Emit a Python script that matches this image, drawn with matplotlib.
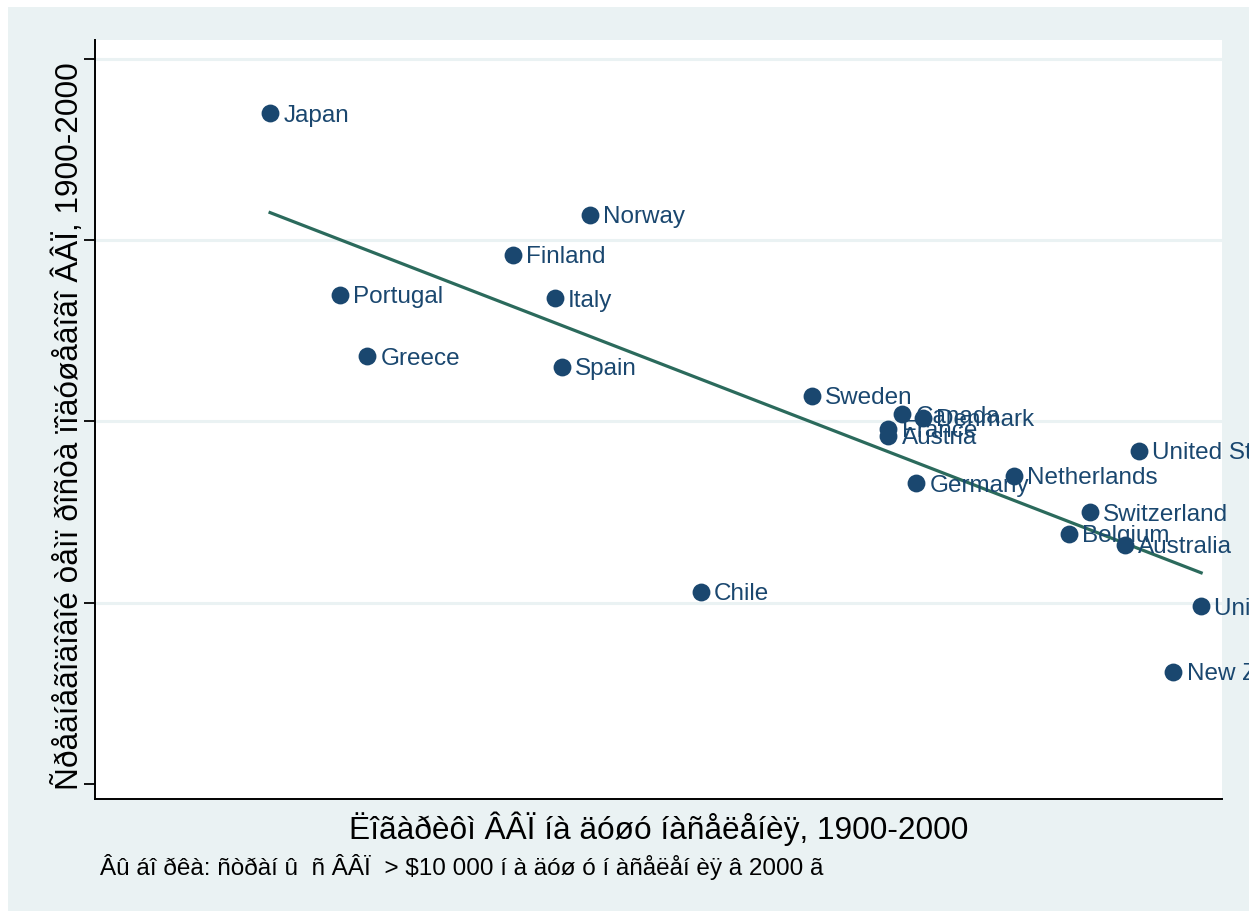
import matplotlib.pyplot as plt
from matplotlib.patches import Rectangle
import numpy as np

plt.rcParams["font.family"] = ["Liberation Sans", "DejaVu Sans"]

NAVY = "#1a476f"
FIT = "#2b6a5c"
BG = "#eaf2f3"

countries = [
    "Japan", "Norway", "Finland", "Portugal", "Italy", "Greece", "Spain",
    "Sweden", "Canada", "Denmark", "France", "Austria", "United States",
    "Netherlands", "Germany", "Switzerland", "Belgium", "Australia",
    "Chile", "United Kingdom", "New Zealand",
]
log_gdp = [
    7.07, 7.53, 7.42, 7.17, 7.48, 7.21, 7.49,
    7.85, 7.98, 8.01, 7.96, 7.96, 8.32,
    8.14, 8.00, 8.25, 8.22, 8.30,
    7.69, 8.41, 8.37,
]
growth = [
    2.85, 2.57, 2.46, 2.35, 2.34, 2.18, 2.15,
    2.07, 2.02, 2.01, 1.98, 1.96, 1.92,
    1.85, 1.83, 1.75, 1.69, 1.66,
    1.53, 1.49, 1.31,
]
y_ticks = [1.0, 1.5, 2.0, 2.5, 3.0]

xlabel = "Ëîãàðèôì ÂÂÏ íà äóøó íàñåëåíèÿ, 1900-2000"
ylabel = "Ñðåäíåãîäîâîé òåìï ðîñòà ïîäóøåâîãî ÂÂÏ, 1900-2000"
note = "Âû áî ðêà: ñòðàí û  ñ ÂÂÏ  > $10 000 í à äóø ó í àñåëåí èÿ â 2000 ã"

x = np.array(log_gdp)
y = np.array(growth)

fig = plt.figure(figsize=(12.49, 9.12), dpi=100, facecolor="white")
fig.patches.append(Rectangle((8 / 1249, 0), 1, 1 - 8 / 912, transform=fig.transFigure,
                             facecolor=BG, edgecolor="none", zorder=-10))
ax = fig.add_axes([95 / 1249, 1 - 800 / 912, (1222 - 95) / 1249, (800 - 41) / 912])
ax.set_facecolor("white")

for v in y_ticks[1:]:
    ax.axhline(v, color=BG, lw=2.2, zorder=0)

# linear fit over the range of the data
b, a = np.polyfit(x, y, 1)
xf = np.array([x.min(), x.max()])
ax.plot(xf, a + b * xf, color=FIT, lw=2.3, zorder=2)

ax.scatter(x, y, s=165, color=NAVY, zorder=3, linewidths=0)
for name, xi, yi in zip(countries, x, y):
    ax.annotate(name, (xi, yi), xytext=(9.5, -1), textcoords="offset points",
                va="center", ha="left", fontsize=17.5, color=NAVY, zorder=4)

ax.set_xlim(6.818, 8.44)
ax.set_ylim(0.959, 3.052)
ax.set_yticks(y_ticks)
ax.set_yticklabels([])
ax.set_xticks([])
ax.tick_params(axis="y", length=8, width=1.3, color="black")
for s in ["top", "right"]:
    ax.spines[s].set_visible(False)
for s in ["left", "bottom"]:
    ax.spines[s].set_linewidth(1.4)

ax.set_xlabel(xlabel, fontsize=22.8, labelpad=8)
ax.set_ylabel(ylabel, fontsize=22.7)
ax.yaxis.set_label_coords(-10 / 1127, (800 - 426) / 759)
fig.text(100 / 1249, 1 - 867 / 912, note, fontsize=17.5, va="center", ha="left")

fig.savefig("out.png", dpi=100, facecolor=fig.get_facecolor())
